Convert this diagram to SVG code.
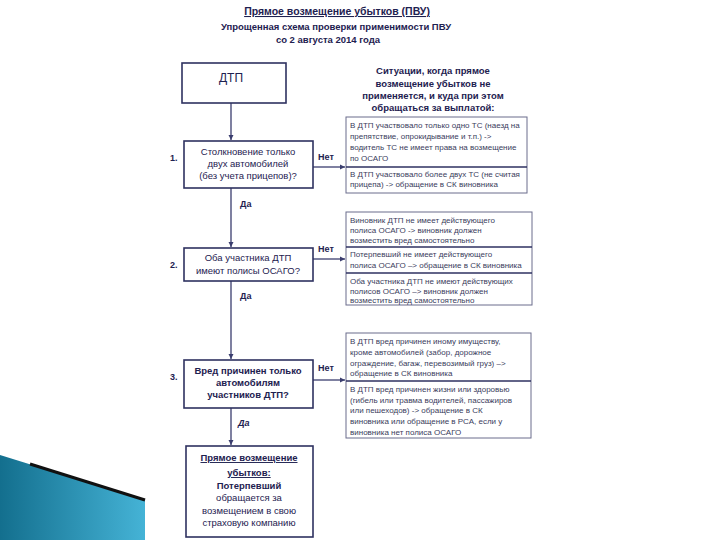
<svg xmlns="http://www.w3.org/2000/svg" width="720" height="540" viewBox="0 0 720 540">
<defs>
<linearGradient id="blue" x1="0" y1="0" x2="1" y2="0">
<stop offset="0" stop-color="#136f8e"/>
<stop offset="1" stop-color="#45b3d6"/>
</linearGradient>
<marker id="arr" markerWidth="6" markerHeight="6" refX="5" refY="3" orient="auto" markerUnits="userSpaceOnUse">
<path d="M0,0.5 L5,3 L0,5.5 z" fill="#3a3d6e"/>
</marker>
<style>
text{font-family:"Liberation Sans","DejaVu Sans",sans-serif;fill:#1e2150}
.box{fill:#fff;stroke:#2e3160;stroke-width:1.6}
.rbox{fill:#fff;stroke:#6b6d8c;stroke-width:1}
.div{stroke:#2e3160;stroke-width:1.4}
.q{font-size:9.5px;text-anchor:middle}
.qb{font-size:9.5px;text-anchor:middle;font-weight:bold}
.r{font-size:8px;fill:#3a3c5c}
.lab{font-size:9px;font-weight:bold}
.con{stroke:#3a3d6e;stroke-width:1.3;fill:none;marker-end:url(#arr)}
</style>
</defs>
<rect width="720" height="540" fill="#fff"/>
<g id="decor">
<polygon points="0,455 145,500 145,540 0,540" fill="url(#blue)"/>
<line x1="30" y1="464" x2="145" y2="500" stroke="#111" stroke-width="3"/>
</g>
<g id="title">
<text x="337" y="15" text-anchor="middle" font-size="10.5" font-weight="bold" text-decoration="underline">Прямое возмещение убытков (ПВУ)</text>
<text x="336" y="30" text-anchor="middle" font-size="9.5" font-weight="bold">Упрощенная схема проверки применимости ПВУ</text>
<text x="328" y="43" text-anchor="middle" font-size="9.5" font-weight="bold">со 2 августа 2014 года</text>
</g>
<g id="connectors">
<line class="con" x1="231" y1="103" x2="231" y2="140"/>
<line class="con" x1="231" y1="188" x2="231" y2="247"/>
<line class="con" x1="231" y1="281" x2="231" y2="359"/>
<line class="con" x1="231" y1="408" x2="231" y2="445"/>
<line class="con" x1="313" y1="167" x2="345" y2="167"/>
<line class="con" x1="313" y1="259" x2="345" y2="259" stroke-width="2"/>
<line class="con" x1="313" y1="380" x2="345" y2="380"/>
<text class="lab" x="318" y="160">Нет</text>
<text class="lab" x="240" y="207">Да</text>
<text class="lab" x="318" y="252">Нет</text>
<text class="lab" x="240" y="299">Да</text>
<text class="lab" x="318" y="371">Нет</text>
<text class="lab" x="238" y="426" font-style="italic" font-weight="normal">Да</text>
</g>
<g id="n-dtp">
<rect class="box" x="182" y="63" width="104" height="40"/>
<text x="231" y="82" text-anchor="middle" font-size="12">ДТП</text>
</g>
<g id="n-q1">
<rect class="box" x="184" y="141" width="129" height="47"/>
<text class="lab" x="170" y="161">1.</text>
<text class="q" x="248" y="155">Столкновение только</text>
<text class="q" x="248" y="167">двух автомобилей</text>
<text class="q" x="248" y="179">(без учета прицепов)?</text>
</g>
<g id="n-q2">
<rect class="box" x="184" y="248" width="129" height="33"/>
<text class="lab" x="170" y="268">2.</text>
<text class="q" x="248" y="261">Оба участника ДТП</text>
<text class="q" x="248" y="274">имеют полисы ОСАГО?</text>
</g>
<g id="n-q3">
<rect class="box" x="184" y="360" width="129" height="48"/>
<text class="lab" x="170" y="380">3.</text>
<text class="qb" x="248" y="374">Вред причинен только</text>
<text class="qb" x="248" y="386">автомобилям</text>
<text class="qb" x="248" y="398">участников ДТП?</text>
</g>
<g id="n-pvu">
<rect class="box" x="186" y="446" width="127" height="91" stroke-width="2"/>
<text class="qb" x="249" y="461" font-size="10" text-decoration="underline">Прямое возмещение</text>
<text class="qb" x="249" y="476" font-size="10" text-decoration="underline">убытков:</text>
<text class="qb" x="249" y="489">Потерпевший</text>
<text class="q" x="249" y="501">обращается за</text>
<text class="q" x="249" y="514">возмещением в свою</text>
<text class="q" x="249" y="526">страховую компанию</text>
</g>
<g id="n-header">
<text x="433" y="74" text-anchor="middle" font-size="9.5" font-weight="bold">Ситуации, когда прямое</text>
<text x="433" y="87" text-anchor="middle" font-size="9.5" font-weight="bold">возмещение убытков не</text>
<text x="433" y="99" text-anchor="middle" font-size="9.5" font-weight="bold">применяется, и куда при этом</text>
<text x="433" y="111" text-anchor="middle" font-size="9.5" font-weight="bold">обращаться за выплатой:</text>
</g>
<g id="n-r1">
<rect class="rbox" x="346" y="117" width="181" height="76"/>
<line class="div" x1="346" y1="167" x2="527" y2="167"/>
<text class="r" x="350" y="128">В ДТП участвовало только одно ТС (наезд на</text>
<text class="r" x="350" y="139">препятствие, опрокидывание и т.п.) -&gt;</text>
<text class="r" x="350" y="150">водитель ТС не имеет права на возмещение</text>
<text class="r" x="350" y="161">по ОСАГО</text>
<text class="r" x="350" y="177">В ДТП участвовало более двух ТС (не считая</text>
<text class="r" x="350" y="187">прицепа) -&gt; обращение в СК виновника</text>
</g>
<g id="n-r2">
<rect class="rbox" x="346" y="212" width="186" height="93"/>
<line class="div" x1="346" y1="247" x2="532" y2="247"/>
<line class="div" x1="346" y1="273" x2="532" y2="273"/>
<text class="r" x="350" y="223">Виновник ДТП не имеет действующего</text>
<text class="r" x="350" y="233">полиса ОСАГО -&gt; виновник должен</text>
<text class="r" x="350" y="243">возместить вред самостоятельно</text>
<text class="r" x="350" y="257">Потерпевший не имеет действующего</text>
<text class="r" x="350" y="268">полиса ОСАГО –&gt; обращение в СК виновника</text>
<text class="r" x="350" y="284">Оба участника ДТП не имеют действующих</text>
<text class="r" x="350" y="294">полисов ОСАГО –&gt; виновник должен</text>
<text class="r" x="350" y="303">возместить вред самостоятельно</text>
</g>
<g id="n-r3">
<rect class="rbox" x="346" y="333" width="185" height="105"/>
<line class="div" x1="346" y1="381" x2="531" y2="381"/>
<text class="r" x="350" y="344">В ДТП вред причинен иному имуществу,</text>
<text class="r" x="350" y="355">кроме автомобилей (забор, дорожное</text>
<text class="r" x="350" y="366">ограждение, багаж, перевозимый груз) –&gt;</text>
<text class="r" x="350" y="376">обращение в СК виновника</text>
<text class="r" x="350" y="392">В ДТП вред причинен жизни или здоровью</text>
<text class="r" x="350" y="403">(гибель или травма водителей, пассажиров</text>
<text class="r" x="350" y="413">или пешеходов) -&gt; обращение в СК</text>
<text class="r" x="350" y="424">виновника или обращение в РСА, если у</text>
<text class="r" x="350" y="435">виновника нет полиса ОСАГО</text>
</g>
</svg>
